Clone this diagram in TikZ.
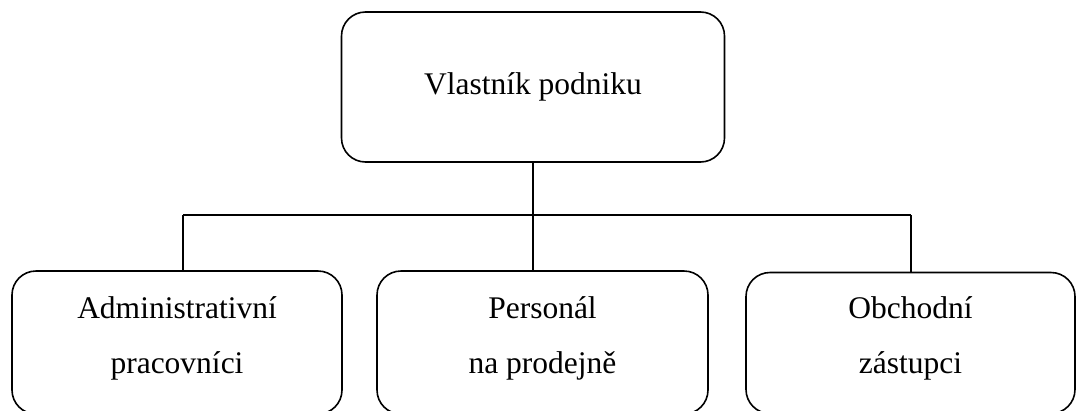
\documentclass[tikz,border=0pt]{standalone}
\usepackage{fontspec}
\setmainfont{Liberation Serif}
\begin{document}
\begin{tikzpicture}[x=1pt,y=-1pt,
  orgbox/.style={draw=black, line width=1.6pt, rounded corners=24pt,
    inner sep=0pt},
  boxtext/.style={align=center, inner sep=0pt,
    font=\fontsize{31.5}{55}\selectfont},
  link/.style={draw=black, line width=1.6pt}]
  \useasboundingbox (0,0) rectangle (1076,410);
  % owner
  \node[orgbox, minimum width=383pt, minimum height=150pt,
    label={[boxtext]center:Vlastník podniku}] (owner) at (533,87) {};
  % staff groups (their lower edges run just past the page)
  \node[orgbox, minimum width=330pt, minimum height=143pt,
    label={[boxtext, yshift=4.5pt]center:{Administrativní\\pracovníci}}] (adm) at (177,342.5) {};
  \node[orgbox, minimum width=331pt, minimum height=143pt,
    label={[boxtext, yshift=4.5pt]center:{Personál\\na prodejně}}] (shop) at (542.5,342.5) {};
  \node[orgbox, minimum width=329pt, minimum height=141pt,
    label={[boxtext, yshift=4.5pt]center:{Obchodní\\zástupci}}] (sales) at (910.5,343) {};
  % connectors
  \coordinate (hl) at (183,215);
  \coordinate (hr) at (911,215);
  \draw[link] (owner.south) -- (owner.south |- shop.north);
  \draw[link] (hl) -- (hr);
  \draw[link] (hl) -- (hl |- adm.north);
  \draw[link] (hr) -- (hr |- sales.north);
\end{tikzpicture}
\end{document}
